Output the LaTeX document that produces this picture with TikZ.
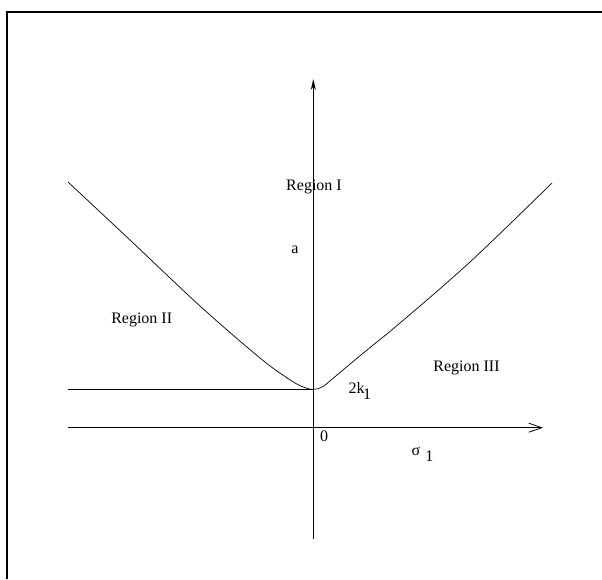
\documentclass[tikz,border=0pt]{standalone}
\usepackage{fontspec}
\setmainfont{Liberation Serif}
\usetikzlibrary{arrows.meta}
\tikzset{
  lbl/.style={anchor=base, inner sep=0pt, font=\fontsize{16}{19}\selectfont},
  axis/.style={line width=0.8pt},
  curve/.style={line width=0.7pt},
  frame/.style={line width=2pt}
}
\begin{document}
\begin{tikzpicture}[x=1pt,y=-1pt]
\useasboundingbox (0,0) rectangle (602,579);
% frame (only top and left edges visible)
\draw[frame] (602,12) -- (7,12) -- (7,579);
% axes
\coordinate (ybot) at (313.3,539);
\coordinate (ytop) at (313.3,79);
\coordinate (xl) at (68,427.7);
\coordinate (xr) at (543,427.7);
\draw[axis, -{Stealth[length=11pt,width=5pt]}] (ybot) -- (ytop);
\draw[axis, -{Straight Barb[length=13pt,width=9pt]}] (xl) -- (xr);
% horizontal level line
\coordinate (hl) at (68,389.5);
\coordinate (vx) at (313.3,389.5);
\draw[axis] (hl) -- (vx);
% curve
\draw[curve] plot[smooth, tension=0.55] coordinates {(68,182) (130,240) (200,306) (260,358) (288,378.5) (302,386.5) (313.3,389.5) (323,386.5) (334,377.5) (367,350) (400,323) (470,262) (552,183)};
% labels
\node[lbl] (r1) at (314,190) {Region I};
\node[lbl] (a) at (295,253) {a};
\node[lbl] (r2) at (141.7,323.3) {Region II};
\node[lbl] (r3) at (466.5,371.7) {Region III};
\node[lbl, anchor=base west] (k) at (348.3,393.3) {2k\kern-1.5pt\raisebox{-6pt}{1}};
\node[lbl] (zero) at (324,441.7) {0};
\node[lbl, anchor=base west] (sig) at (411.5,455.7) {σ\kern5pt\raisebox{-6pt}{1}};
\end{tikzpicture}
\end{document}
